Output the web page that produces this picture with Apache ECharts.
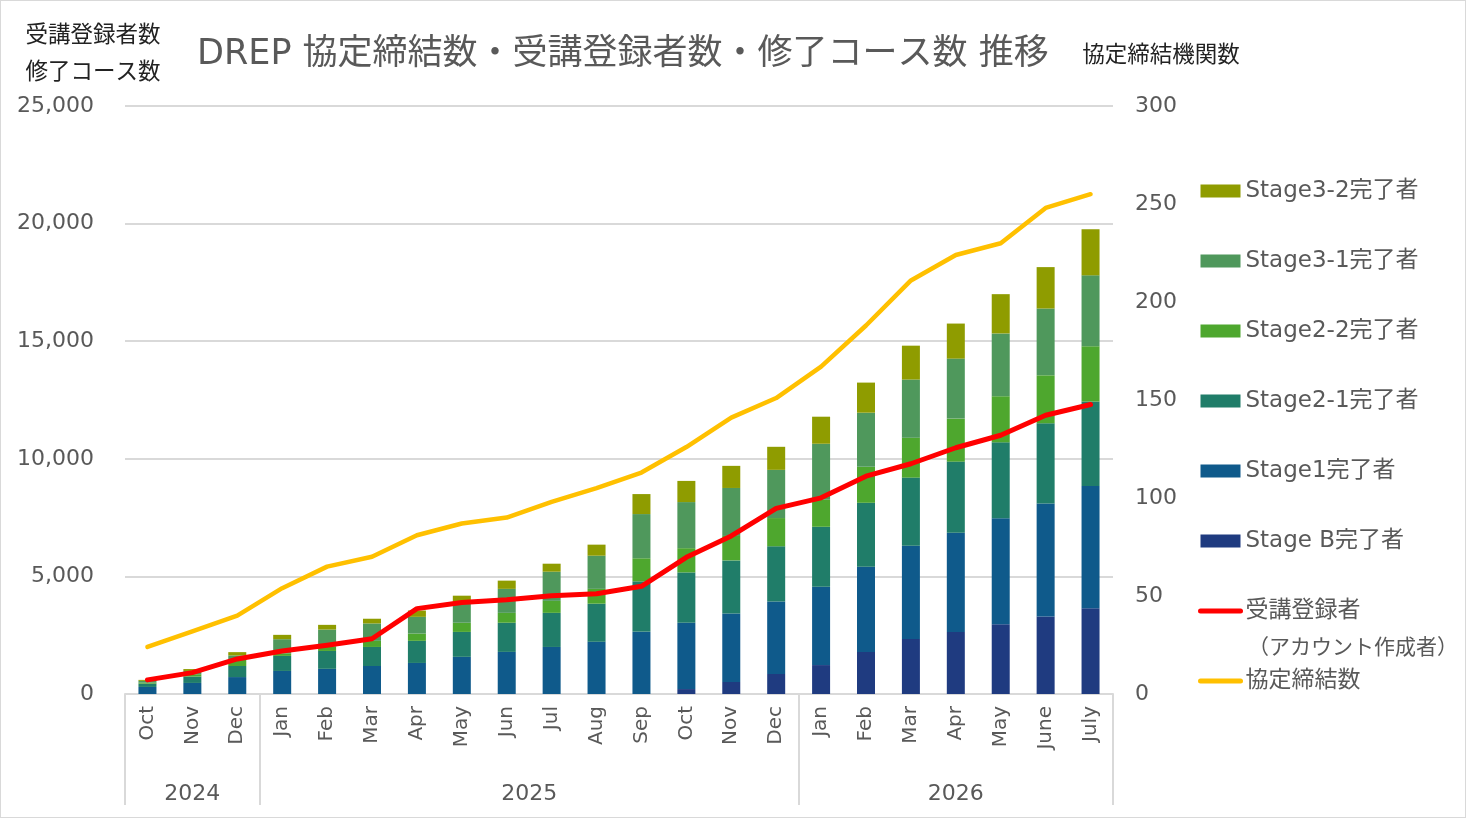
<!DOCTYPE html>
<html>
<head>
<meta charset="utf-8">
<script src="https://cdn.jsdelivr.net/npm/echarts@6/dist/echarts.min.js"></script>
<style>
  html, body { margin: 0; padding: 0; background: #fff; }
  #wrap { width: 1466px; height: 818px; box-sizing: border-box; border: 1px solid #d9d9d9; }
  #chart { width: 1464px; height: 816px; }
</style>
</head>
<body>
<div id="wrap"><div id="chart"></div></div>
<script>
// ---- data ----
const months = ['Oct','Nov','Dec','Jan','Feb','Mar','Apr','May','Jun','Jul','Aug','Sep','Oct','Nov','Dec','Jan','Feb','Mar','Apr','May','June','July'];
const yearLabels = ['2024', '2025', '2026'];
const yearStartIndex = [0, 3, 15];

const stageB  = [0, 0, 0, 0, 0, 0, 0, 0, 0, 0, 0, 0, 210, 510, 850, 1230, 1790, 2340, 2640, 2970, 3300, 3650];
const stage1  = [300, 470, 720, 980, 1070, 1190, 1320, 1580, 1790, 2000, 2220, 2650, 2820, 2910, 3080, 3330, 3620, 3960, 4220, 4500, 4800, 5190];
const stage21 = [140, 270, 470, 640, 760, 810, 940, 1060, 1240, 1450, 1620, 2140, 2140, 2260, 2350, 2550, 2720, 2900, 3020, 3230, 3410, 3600];
const stage22 = [40, 100, 280, 110, 190, 260, 310, 390, 420, 510, 630, 980, 1030, 1040, 1200, 1150, 1530, 1700, 1830, 1960, 2040, 2340];
const stage31 = [80, 140, 170, 600, 720, 740, 710, 890, 1020, 1240, 1410, 1880, 1960, 2040, 2050, 2380, 2300, 2470, 2550, 2670, 2840, 3020];
const stage32 = [40, 80, 140, 185, 200, 200, 270, 260, 350, 340, 470, 850, 900, 940, 980, 1150, 1280, 1440, 1490, 1670, 1760, 1960];
const registrants = [600, 910, 1490, 1830, 2070, 2350, 3630, 3890, 4010, 4180, 4260, 4580, 5810, 6720, 7890, 8340, 9260, 9790, 10470, 11000, 11850, 12310];
const agreements = [24, 32, 40, 54, 65, 70, 81, 87, 90, 98, 105, 113, 126, 141, 151, 167, 188, 211, 224, 230, 248, 255];

const leftAxisName = '受講登録者数\n修了コース数';
const rightAxisName = '協定締結機関数';
const titleText = 'DREP 協定締結数・受講登録者数・修了コース数 推移';
const regSub = '（アカウント作成者）';

// ---- chart ----
const FONT = "'DejaVu Sans', 'Noto Sans CJK JP', sans-serif";
const GRAY = '#595959';
const chart = echarts.init(document.getElementById('chart'));

function barSeries(name, data, color) {
  return { name, type: 'bar', stack: 'total', data, barWidth: 18, itemStyle: { color }, emphasis: { disabled: true } };
}

const yearLabelIdx = { 1: 0, 8: 1, 18: 2 };

const barNames = ['Stage3-2完了者','Stage3-1完了者','Stage2-2完了者','Stage2-1完了者','Stage1完了者','Stage B完了者'];
const legendData = barNames.map(n => ({ name: n, icon: 'rect' })).concat([
  { name: '受講登録者', itemStyle: { opacity: 0, color: 'rgba(0,0,0,0)', borderWidth: 0 }, lineStyle: { width: 5, color: '#ff0000' } },
  { name: '協定締結数', itemStyle: { opacity: 0, color: 'rgba(0,0,0,0)', borderWidth: 0 }, lineStyle: { width: 5, color: '#ffc000' } }
]);

const option = {
  animation: false,
  textStyle: { fontFamily: FONT },
  title: {
    text: titleText,
    left: 191, top: 29,
    textStyle: { fontFamily: FONT, fontSize: 35, fontWeight: 'normal', color: GRAY, lineHeight: 40 }
  },
  grid: { left: 124, right: 352, top: 105, bottom: 123, containLabel: false },
  legend: {
    orient: 'vertical', left: 1192, top: 172,
    itemWidth: 40, itemHeight: 13, itemGap: 44,
    data: legendData,
    textStyle: { fontFamily: FONT, fontSize: 23, color: GRAY, lineHeight: 26 },
    selectedMode: false
  },
  graphic: [{
    type: 'text', left: 1247, top: 637,
    style: { text: regSub, fontFamily: FONT, fontSize: 21, fill: GRAY }
  }],
  xAxis: [{
    type: 'category', data: months, position: 'bottom',
    axisLine: { lineStyle: { color: '#d9d9d9', width: 2 } },
    axisTick: { show: false },
    axisLabel: { rotate: 90, interval: 0, fontSize: 20, color: GRAY, margin: 12, fontFamily: FONT }
  }, {
    type: 'category', data: months, position: 'bottom',
    axisLine: { show: false },
    axisTick: {
      show: true, length: 111,
      interval: function (index) { return yearStartIndex.indexOf(index) >= 0; },
      lineStyle: { color: '#d9d9d9', width: 2 }
    },
    axisLabel: {
      interval: 0, margin: 89, fontSize: 22, color: GRAY, fontFamily: FONT,
      formatter: function (v, i) {
        if (yearLabelIdx[i] === undefined) return '';
        const t = yearLabels[yearLabelIdx[i]];
        return i === 8 ? '{s|' + t + '}' : t;
      },
      rich: { s: { padding: [0, 0, 0, 45], fontSize: 22, color: GRAY, fontFamily: FONT } }
    }
  }],
  yAxis: [{
    type: 'value', min: 0, max: 25000, interval: 5000,
    name: leftAxisName, nameLocation: 'end', nameGap: 14,
    nameTextStyle: { fontFamily: FONT, fontSize: 22.5, color: '#222', lineHeight: 37, align: 'center', verticalAlign: 'bottom', padding: [0, 64, 0, 0] },
    axisLine: { show: false }, axisTick: { show: false },
    axisLabel: { fontSize: 22, color: GRAY, margin: 31, fontFamily: FONT },
    splitLine: { lineStyle: { color: '#d9d9d9', width: 2 } }
  }, {
    type: 'value', min: 0, max: 300, interval: 50, position: 'right',
    name: rightAxisName, nameLocation: 'end', nameGap: 31,
    nameTextStyle: { fontFamily: FONT, fontSize: 22.5, color: '#222', lineHeight: 37, align: 'center', verticalAlign: 'bottom', padding: [0, 0, 0, 96] },
    axisLine: { show: false }, axisTick: { show: false },
    axisLabel: { fontSize: 22, color: GRAY, margin: 22, fontFamily: FONT },
    splitLine: { show: false }
  }],
  series: [
    barSeries('Stage B完了者', stageB, '#1f3b80'),
    barSeries('Stage1完了者', stage1, '#0f5a8b'),
    barSeries('Stage2-1完了者', stage21, '#207d69'),
    barSeries('Stage2-2完了者', stage22, '#4ea72e'),
    barSeries('Stage3-1完了者', stage31, '#4f985c'),
    barSeries('Stage3-2完了者', stage32, '#8f9c00'),
    { name: '受講登録者', type: 'line', data: registrants, yAxisIndex: 0, symbol: 'none',
      lineStyle: { color: '#ff0000', width: 5, cap: 'round', join: 'round' }, itemStyle: { color: '#ff0000' }, z: 5 },
    { name: '協定締結数', type: 'line', data: agreements, yAxisIndex: 1, symbol: 'none',
      lineStyle: { color: '#ffc000', width: 4.5, cap: 'round', join: 'round' }, itemStyle: { color: '#ffc000' }, z: 5 }
  ]
};
chart.setOption(option);
</script>
</body>
</html>
